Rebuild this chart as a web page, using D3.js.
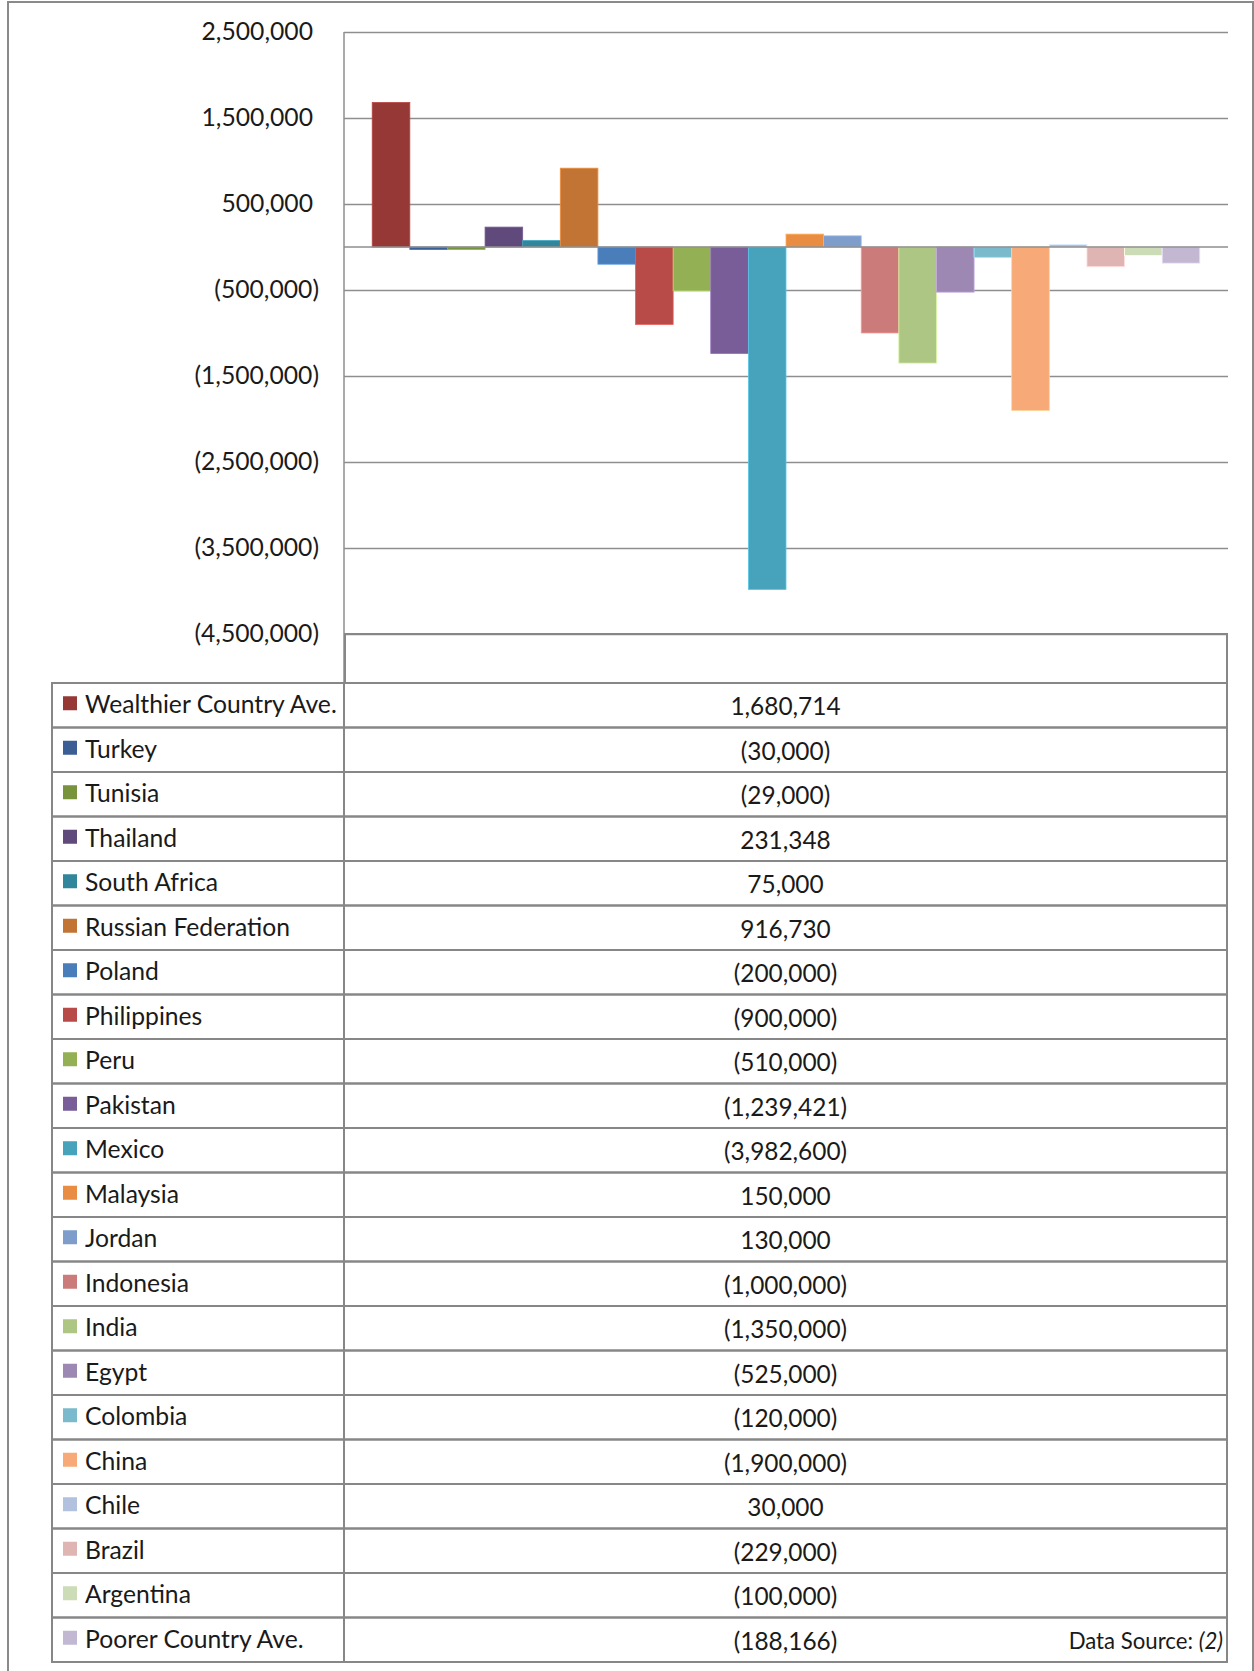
<!DOCTYPE html>
<html>
<head>
<meta charset="utf-8">
<script src="https://cdn.jsdelivr.net/npm/d3@7"></script>
<style>
  html, body { margin: 0; padding: 0; background: #fff; }
  svg { display: block; }
  text { font-family: Lato, "Open Sans", "DejaVu Sans", sans-serif; fill: #1a1a1a; }
</style>
</head>
<body>
<svg id="chart" width="1254" height="1671"></svg>
<script>
// Net change by country, with the two group averages at each end
const countries = [
  "Wealthier Country Ave.", "Turkey", "Tunisia", "Thailand", "South Africa",
  "Russian Federation", "Poland", "Philippines", "Peru", "Pakistan", "Mexico",
  "Malaysia", "Jordan", "Indonesia", "India", "Egypt", "Colombia", "China",
  "Chile", "Brazil", "Argentina", "Poorer Country Ave."
];
const values = [
  1680714, -30000, -29000, 231348, 75000,
  916730, -200000, -900000, -510000, -1239421, -3982600,
  150000, 130000, -1000000, -1350000, -525000, -120000, -1900000,
  30000, -229000, -100000, -188166
];
const colors = [
  "#953836", "#3b5f94", "#77933c", "#604a7b", "#31869c",
  "#c27434", "#4a7ebb", "#b84b48", "#93b055", "#785d98", "#47a2bb",
  "#e98d42", "#7e9dcb", "#cb7c7a", "#aec684", "#9c88b3", "#7bbacd", "#f7aa78",
  "#b2c2de", "#dfb5b4", "#ccdcb7", "#c2b8d2"
];
const tickValues = [2500000, 1500000, 500000, -500000, -1500000, -2500000, -3500000, -4500000];
const sourceNote = "Data Source: ";
const sourceRef = "(2)";

const svg = d3.select("#chart");

const plotLeft = 344, plotRight = 1228, plotTop = 32, plotBottom = 634;
const tableTop = 683, rowH = 44.5, tableLeft = 52, tableRight = 1227;
const gridColor = "#8e8e8e", borderColor = "#878787";

const fmt = v => v < 0 ? "(" + d3.format(",")(-v) + ")" : d3.format(",")(v);

const y = d3.scaleLinear().domain([-4500000, 2500000]).range([plotBottom, plotTop]);
const x = d3.scaleBand().domain(countries).range([plotLeft, plotRight])
  .paddingInner(0).paddingOuter(0.75);

// outer frame
svg.append("rect")
  .attr("x", 8).attr("y", 2).attr("width", 1245).attr("height", 1700)
  .attr("fill", "none").attr("stroke", "#8a8a8a").attr("stroke-width", 2);

// horizontal gridlines
const grid = svg.append("g").attr("transform", `translate(${plotLeft},0)`)
  .call(d3.axisLeft(y).tickValues(tickValues).tickSize(-(plotRight - plotLeft)).tickFormat(""));
grid.select(".domain").remove();
grid.selectAll("line").attr("stroke", gridColor).attr("stroke-width", 1.5);

// tick labels; positive numbers leave room for a closing parenthesis
const axis = svg.append("g").attr("transform", `translate(${plotLeft - 25},0)`)
  .call(d3.axisLeft(y).tickValues(tickValues).tickSize(0).tickPadding(0).tickFormat(fmt));
axis.select(".domain").remove();
axis.selectAll("text").attr("font-size", 24.7).attr("fill", "#1a1a1a")
  .style("font-family", "Lato, 'Open Sans', sans-serif")
  .attr("x", d => d < 0 ? 0 : -6);

// bars
svg.append("g").selectAll("rect").data(values).join("rect")
  .attr("x", (d, i) => x(countries[i]))
  .attr("width", x.bandwidth())
  .attr("y", d => y(Math.max(0, d)))
  .attr("height", d => Math.abs(y(d) - y(0)))
  .attr("fill", (d, i) => colors[i])
  .attr("stroke", (d, i) => d3.color(colors[i]).brighter(0.6))
  .attr("stroke-width", 0.8);

// zero line
svg.append("line")
  .attr("x1", plotLeft).attr("x2", plotRight)
  .attr("y1", y(0)).attr("y2", y(0))
  .attr("stroke", gridColor).attr("stroke-width", 1.5);

// vertical axis line running down into the table
svg.append("line")
  .attr("x1", plotLeft).attr("x2", plotLeft)
  .attr("y1", plotTop).attr("y2", tableTop)
  .attr("stroke", gridColor).attr("stroke-width", 1.5);

// data table header box
svg.append("rect")
  .attr("x", plotLeft + 1).attr("y", plotBottom)
  .attr("width", tableRight - plotLeft - 1).attr("height", tableTop - plotBottom)
  .attr("fill", "none").attr("stroke", borderColor).attr("stroke-width", 2);

// data table rows
const rows = svg.append("g").selectAll("g").data(countries).join("g")
  .attr("transform", (d, i) => `translate(0,${tableTop + i * rowH})`);

rows.append("rect")
  .attr("x", tableLeft).attr("width", plotLeft - tableLeft).attr("height", rowH)
  .attr("fill", "none").attr("stroke", borderColor).attr("stroke-width", 2);
rows.append("rect")
  .attr("x", plotLeft).attr("width", tableRight - plotLeft).attr("height", rowH)
  .attr("fill", "none").attr("stroke", borderColor).attr("stroke-width", 2);

rows.append("rect")
  .attr("x", 63).attr("y", rowH / 2 - 9).attr("width", 14).attr("height", 14)
  .attr("fill", (d, i) => colors[i]);

rows.append("text")
  .attr("x", 85).attr("y", rowH / 2).attr("dy", "0.32em")
  .attr("font-size", 24.7)
  .text(d => d);

rows.append("text")
  .attr("x", (plotLeft + tableRight) / 2).attr("y", rowH / 2 + 2).attr("dy", "0.32em")
  .attr("text-anchor", "middle")
  .attr("font-size", 24.4)
  .text((d, i) => fmt(values[i]));

// source note in the last row
const note = svg.append("text")
  .attr("x", tableRight - 4).attr("y", tableTop + (countries.length - 1) * rowH + rowH / 2 + 2)
  .attr("dy", "0.32em").attr("text-anchor", "end").attr("font-size", 22.2);
note.append("tspan").text(sourceNote);
note.append("tspan").attr("font-style", "italic").text(sourceRef);
</script>
</body>
</html>
